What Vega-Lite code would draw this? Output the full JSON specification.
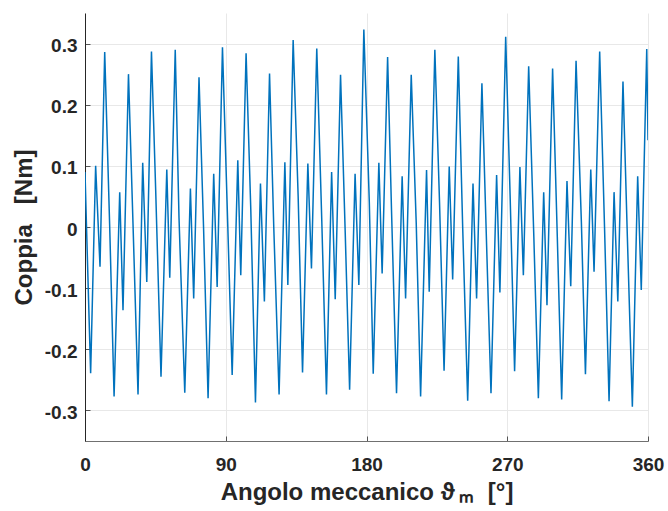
{
  "$schema": "https://vega.github.io/schema/vega-lite/v6.json",
  "width": 563,
  "height": 428,
  "autosize": {"type": "none"},
  "padding": {"left": 85, "top": 13, "right": 20, "bottom": 70},
  "background": "white",
  "config": {
    "view": {"stroke": null},
    "axis": {
      "labelFont": "Liberation Sans",
      "labelFontWeight": "bold",
      "labelFontSize": 19,
      "labelColor": "#262626",
      "titleFont": "Liberation Sans",
      "titleFontWeight": "bold",
      "titleFontSize": 24,
      "titleColor": "#262626",
      "gridColor": "#e8e8e8",
      "gridWidth": 1,
      "tickSize": -5,
      "tickColor": "#555555",
      "domainWidth": 1
    }
  },
  "data": {
    "values": [
      {"a": 0, "c": 0.09}, {"a": 0.9, "c": 0.006}, {"a": 3.6, "c": -0.239}, {"a": 6.8, "c": 0.1}, {"a": 9.6, "c": -0.065},
      {"a": 12.6, "c": 0.286}, {"a": 15.8, "c": 0.0}, {"a": 18.6, "c": -0.277}, {"a": 22.2, "c": 0.057}, {"a": 24.3, "c": -0.136},
      {"a": 27.8, "c": 0.25}, {"a": 30.7, "c": 0.005}, {"a": 33.9, "c": -0.274}, {"a": 36.9, "c": 0.105}, {"a": 39.5, "c": -0.09},
      {"a": 42.5, "c": 0.287}, {"a": 45.2, "c": 0.06}, {"a": 48.6, "c": -0.245}, {"a": 52.3, "c": 0.094}, {"a": 54.2, "c": -0.083},
      {"a": 57.7, "c": 0.29}, {"a": 60.1, "c": 0.016}, {"a": 63.8, "c": -0.271}, {"a": 67.4, "c": 0.063}, {"a": 69.5, "c": -0.117},
      {"a": 72.9, "c": 0.245}, {"a": 75.8, "c": 0.0}, {"a": 78.7, "c": -0.28}, {"a": 82.3, "c": 0.087}, {"a": 84.5, "c": -0.098},
      {"a": 87.9, "c": 0.294}, {"a": 91.2, "c": 0.01}, {"a": 94.1, "c": -0.242}, {"a": 97.7, "c": 0.109}, {"a": 99.6, "c": -0.079},
      {"a": 103.0, "c": 0.284}, {"a": 106.0, "c": 0.03}, {"a": 109.0, "c": -0.287}, {"a": 112.2, "c": 0.071}, {"a": 114.7, "c": -0.122},
      {"a": 118.0, "c": 0.251}, {"a": 120.7, "c": 0.0}, {"a": 124.1, "c": -0.274}, {"a": 127.8, "c": 0.106}, {"a": 129.7, "c": -0.095},
      {"a": 133.1, "c": 0.306}, {"a": 136.3, "c": 0.05}, {"a": 139.1, "c": -0.238}, {"a": 142.5, "c": 0.104}, {"a": 144.8, "c": -0.068},
      {"a": 148.2, "c": 0.292}, {"a": 151.4, "c": 0.011}, {"a": 154.4, "c": -0.274}, {"a": 157.7, "c": 0.09}, {"a": 160.0, "c": -0.118},
      {"a": 163.4, "c": 0.249}, {"a": 166.4, "c": -0.01}, {"a": 169.2, "c": -0.266}, {"a": 172.7, "c": 0.087}, {"a": 175.1, "c": -0.095},
      {"a": 178.3, "c": 0.323}, {"a": 181.8, "c": 0.04}, {"a": 184.3, "c": -0.24}, {"a": 187.9, "c": 0.105}, {"a": 190.0, "c": -0.076},
      {"a": 193.5, "c": 0.278}, {"a": 196.0, "c": 0.027}, {"a": 199.2, "c": -0.272}, {"a": 202.8, "c": 0.083}, {"a": 205.0, "c": -0.117},
      {"a": 208.6, "c": 0.249}, {"a": 211.8, "c": 0.006}, {"a": 214.6, "c": -0.277}, {"a": 218.4, "c": 0.093}, {"a": 220.1, "c": -0.106},
      {"a": 223.7, "c": 0.29}, {"a": 226.7, "c": 0.04}, {"a": 229.6, "c": -0.235}, {"a": 232.9, "c": 0.099}, {"a": 235.1, "c": -0.086},
      {"a": 238.7, "c": 0.279}, {"a": 241.5, "c": 0.0}, {"a": 244.7, "c": -0.284}, {"a": 248.1, "c": 0.071}, {"a": 250.4, "c": -0.117},
      {"a": 253.8, "c": 0.235}, {"a": 256.8, "c": -0.03}, {"a": 259.6, "c": -0.272}, {"a": 263.2, "c": 0.085}, {"a": 265.3, "c": -0.107},
      {"a": 269.0, "c": 0.311}, {"a": 271.9, "c": 0.045}, {"a": 274.7, "c": -0.236}, {"a": 278.1, "c": 0.098}, {"a": 280.3, "c": -0.079},
      {"a": 283.7, "c": 0.263}, {"a": 287.0, "c": -0.016}, {"a": 289.9, "c": -0.28}, {"a": 293.3, "c": 0.057}, {"a": 295.4, "c": -0.128},
      {"a": 299.0, "c": 0.259}, {"a": 302.0, "c": -0.016}, {"a": 304.8, "c": -0.282}, {"a": 308.2, "c": 0.075}, {"a": 310.6, "c": -0.097},
      {"a": 314.0, "c": 0.272}, {"a": 317.4, "c": 0.008}, {"a": 320.0, "c": -0.241}, {"a": 323.4, "c": 0.094}, {"a": 325.5, "c": -0.073},
      {"a": 329.1, "c": 0.287}, {"a": 332.2, "c": 0.0}, {"a": 335.1, "c": -0.285}, {"a": 338.3, "c": 0.057}, {"a": 340.7, "c": -0.122},
      {"a": 344.0, "c": 0.238}, {"a": 346.8, "c": -0.016}, {"a": 350.0, "c": -0.294}, {"a": 353.4, "c": 0.083}, {"a": 355.7, "c": -0.103},
      {"a": 359.2, "c": 0.291}, {"a": 360.0, "c": 0.142}
    ]
  },
  "mark": {"type": "line", "color": "#0072BD", "strokeWidth": 1.5, "clip": true},
  "encoding": {
    "x": {
      "field": "a",
      "type": "quantitative",
      "scale": {"domain": [0, 360], "nice": false, "zero": false},
      "axis": {
        "values": [0, 90, 180, 270, 360],
        "title": "Angolo meccanico ϑ\u2009ₘ\u00a0\u00a0[°]",
        "labelPadding": 19,
        "labelFlush": false,
        "domainColor": "#707070",
        "titlePadding": 6,
        "labelExpr": "toString(datum.value)"
      }
    },
    "y": {
      "field": "c",
      "type": "quantitative",
      "scale": {"domain": [-0.35, 0.35], "nice": false, "zero": false},
      "axis": {
        "values": [-0.3, -0.2, -0.1, 0, 0.1, 0.2, 0.3],
        "title": "Coppia\u00a0\u00a0\u00a0[Nm]",
        "labelPadding": 13,
        "labelOffset": 2,
        "domainColor": "#262626",
        "titlePadding": 8,
        "labelExpr": "toString(datum.value)"
      }
    }
  }
}
